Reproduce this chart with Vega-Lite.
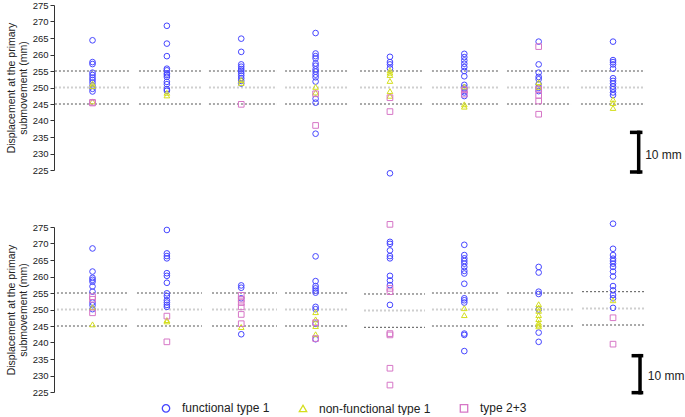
{
  "$schema": "https://vega.github.io/schema/vega-lite/v6.json",
  "padding": {"left": 6, "top": 0, "right": 0, "bottom": 0},
  "bounds": "flush",
  "spacing": 57,
  "config": {
    "view": {"stroke": null},
    "font": "Liberation Sans",
    "axisY": {
      "grid": false,
      "labelFontSize": 9.5,
      "labelColor": "#222",
      "labelPadding": 2,
      "tickSize": 4,
      "tickColor": "#333",
      "domainColor": "#333",
      "titleFontSize": 10.5,
      "titleFontWeight": "normal",
      "titleColor": "#222",
      "titlePadding": 4,
      "titleLineHeight": 12
    },
    "legend": {
      "orient": "none",
      "legendX": 106,
      "legendY": 397,
      "direction": "horizontal",
      "labelFontSize": 12,
      "labelColor": "#222",
      "symbolSize": 55,
      "symbolStrokeWidth": 1.3,
      "columnPadding": 26,
      "labelOffset": 10
    }
  },
  "datasets": {
    "refs": [
      {"p":"A","x":0.495,"x2":1.504,"y":255,"k":"limit"},{"p":"A","x":0.495,"x2":1.504,"y":245,"k":"limit"},{"p":"A","x":0.495,"x2":1.504,"y":250,"k":"target"},
      {"p":"A","x":1.625,"x2":2.486,"y":255,"k":"limit"},{"p":"A","x":1.625,"x2":2.486,"y":245,"k":"limit"},{"p":"A","x":1.625,"x2":2.486,"y":250,"k":"target"},
      {"p":"A","x":2.566,"x2":3.481,"y":255,"k":"limit"},{"p":"A","x":2.566,"x2":3.481,"y":245,"k":"limit"},{"p":"A","x":2.566,"x2":3.481,"y":250,"k":"target"},
      {"p":"A","x":3.589,"x2":4.449,"y":255,"k":"limit"},{"p":"A","x":3.589,"x2":4.449,"y":245,"k":"limit"},{"p":"A","x":3.589,"x2":4.449,"y":250,"k":"target"},
      {"p":"A","x":4.597,"x2":5.458,"y":255,"k":"limit"},{"p":"A","x":4.597,"x2":5.458,"y":245,"k":"limit"},{"p":"A","x":4.597,"x2":5.458,"y":250,"k":"target"},
      {"p":"A","x":5.565,"x2":6.453,"y":255,"k":"limit"},{"p":"A","x":5.565,"x2":6.453,"y":245,"k":"limit"},{"p":"A","x":5.565,"x2":6.453,"y":250,"k":"target"},
      {"p":"A","x":6.574,"x2":7.435,"y":255,"k":"limit"},{"p":"A","x":6.574,"x2":7.435,"y":245,"k":"limit"},{"p":"A","x":6.574,"x2":7.435,"y":250,"k":"target"},
      {"p":"A","x":7.569,"x2":8.430,"y":255,"k":"limit"},{"p":"A","x":7.569,"x2":8.430,"y":245,"k":"limit"},{"p":"A","x":7.569,"x2":8.430,"y":250,"k":"target"},
      {"p":"B","x":0.522,"x2":1.477,"y":255,"k":"limit"},{"p":"B","x":0.522,"x2":1.477,"y":245,"k":"limit"},{"p":"B","x":0.522,"x2":1.477,"y":250,"k":"target"},
      {"p":"B","x":1.598,"x2":2.472,"y":255,"k":"limit"},{"p":"B","x":1.598,"x2":2.472,"y":245,"k":"limit"},{"p":"B","x":1.598,"x2":2.472,"y":250,"k":"target"},
      {"p":"B","x":2.607,"x2":3.481,"y":255,"k":"limit"},{"p":"B","x":2.607,"x2":3.481,"y":245,"k":"limit"},{"p":"B","x":2.607,"x2":3.481,"y":250,"k":"target"},
      {"p":"B","x":3.589,"x2":4.449,"y":255,"k":"limit"},{"p":"B","x":3.589,"x2":4.449,"y":245,"k":"limit"},{"p":"B","x":3.589,"x2":4.449,"y":250,"k":"target"},
      {"p":"B","x":4.651,"x2":5.471,"y":254.7,"k":"limit"},{"p":"B","x":4.651,"x2":5.471,"y":244.6,"k":"limit"},{"p":"B","x":4.651,"x2":5.471,"y":249.7,"k":"target"},
      {"p":"B","x":5.565,"x2":6.453,"y":255,"k":"limit"},{"p":"B","x":5.565,"x2":6.453,"y":245,"k":"limit"},{"p":"B","x":5.565,"x2":6.453,"y":250,"k":"target"},
      {"p":"B","x":6.574,"x2":7.462,"y":255,"k":"limit"},{"p":"B","x":6.574,"x2":7.462,"y":245,"k":"limit"},{"p":"B","x":6.574,"x2":7.462,"y":250,"k":"target"},
      {"p":"B","x":7.583,"x2":8.443,"y":255.4,"k":"limit"},{"p":"B","x":7.583,"x2":8.443,"y":245.3,"k":"limit"},{"p":"B","x":7.583,"x2":8.443,"y":250.3,"k":"target"}
    ],
    "bars": [
      {"p":"A","x":8.345,"y":224.4,"y2":236.4,"x2":8.345},
      {"p":"A","x":8.251,"x2":8.372,"y":236.4,"y2":236.4},
      {"p":"A","x":8.251,"x2":8.372,"y":224.4,"y2":224.4},
      {"p":"B","x":8.363,"y":224.8,"y2":236.0,"x2":8.363},
      {"p":"B","x":8.273,"x2":8.383,"y":236.0,"y2":236.0},
      {"p":"B","x":8.273,"x2":8.383,"y":224.8,"y2":224.8}
    ],
    "labels": [
      {"p":"A","x":8.432,"y":229.5,"label":"10 mm"},
      {"p":"B","x":8.467,"y":229.8,"label":"10 mm"}
    ],
    "pts": [
      {"p":"A","x":1,"t":"functional type 1","y":264.3},{"p":"A","x":1,"t":"functional type 1","y":257.7},{"p":"A","x":1,"t":"functional type 1","y":257.1},{"p":"A","x":1,"t":"functional type 1","y":254.5},{"p":"A","x":1,"t":"functional type 1","y":253.8},{"p":"A","x":1,"t":"functional type 1","y":253.0},{"p":"A","x":1,"t":"functional type 1","y":252.3},{"p":"A","x":1,"t":"functional type 1","y":251.5},{"p":"A","x":1,"t":"functional type 1","y":250.6},{"p":"A","x":1,"t":"functional type 1","y":249.6},{"p":"A","x":1,"t":"functional type 1","y":248.8},
      {"p":"A","x":1,"t":"non-functional type 1","y":251.2},{"p":"A","x":1,"t":"non-functional type 1","y":250.4},{"p":"A","x":1,"t":"non-functional type 1","y":245.8},
      {"p":"A","x":1,"t":"type 2+3","y":245.5},{"p":"A","x":1,"t":"type 2+3","y":245.3},
      {"p":"A","x":2,"t":"functional type 1","y":268.7},{"p":"A","x":2,"t":"functional type 1","y":263.3},{"p":"A","x":2,"t":"functional type 1","y":259.5},{"p":"A","x":2,"t":"functional type 1","y":255.7},{"p":"A","x":2,"t":"functional type 1","y":255.2},{"p":"A","x":2,"t":"functional type 1","y":254.3},{"p":"A","x":2,"t":"functional type 1","y":253.8},{"p":"A","x":2,"t":"functional type 1","y":253.2},{"p":"A","x":2,"t":"functional type 1","y":251.7},{"p":"A","x":2,"t":"functional type 1","y":251.0},{"p":"A","x":2,"t":"functional type 1","y":249.5},{"p":"A","x":2,"t":"functional type 1","y":249.0},
      {"p":"A","x":2,"t":"non-functional type 1","y":248.4},{"p":"A","x":2,"t":"non-functional type 1","y":247.6},
      {"p":"A","x":3,"t":"functional type 1","y":264.8},{"p":"A","x":3,"t":"functional type 1","y":260.8},{"p":"A","x":3,"t":"functional type 1","y":257.0},{"p":"A","x":3,"t":"functional type 1","y":256.3},{"p":"A","x":3,"t":"functional type 1","y":255.6},{"p":"A","x":3,"t":"functional type 1","y":255.0},{"p":"A","x":3,"t":"functional type 1","y":254.3},{"p":"A","x":3,"t":"functional type 1","y":253.6},{"p":"A","x":3,"t":"functional type 1","y":252.8},{"p":"A","x":3,"t":"functional type 1","y":252.0},{"p":"A","x":3,"t":"functional type 1","y":251.2},
      {"p":"A","x":3,"t":"non-functional type 1","y":252.3},{"p":"A","x":3,"t":"non-functional type 1","y":251.4},
      {"p":"A","x":3,"t":"type 2+3","y":244.9},
      {"p":"A","x":4,"t":"functional type 1","y":266.5},{"p":"A","x":4,"t":"functional type 1","y":260.3},{"p":"A","x":4,"t":"functional type 1","y":259.5},{"p":"A","x":4,"t":"functional type 1","y":258.8},{"p":"A","x":4,"t":"functional type 1","y":257.3},{"p":"A","x":4,"t":"functional type 1","y":256.6},{"p":"A","x":4,"t":"functional type 1","y":255.5},{"p":"A","x":4,"t":"functional type 1","y":254.8},{"p":"A","x":4,"t":"functional type 1","y":253.9},{"p":"A","x":4,"t":"functional type 1","y":253.1},{"p":"A","x":4,"t":"functional type 1","y":251.8},{"p":"A","x":4,"t":"functional type 1","y":246.6},{"p":"A","x":4,"t":"functional type 1","y":245.4},{"p":"A","x":4,"t":"functional type 1","y":236.0},
      {"p":"A","x":4,"t":"non-functional type 1","y":250.2},{"p":"A","x":4,"t":"non-functional type 1","y":248.5},
      {"p":"A","x":4,"t":"type 2+3","y":248.1},{"p":"A","x":4,"t":"type 2+3","y":238.5},
      {"p":"A","x":5,"t":"functional type 1","y":259.3},{"p":"A","x":5,"t":"functional type 1","y":257.7},{"p":"A","x":5,"t":"functional type 1","y":257.0},{"p":"A","x":5,"t":"functional type 1","y":255.8},{"p":"A","x":5,"t":"functional type 1","y":224.0},
      {"p":"A","x":5,"t":"non-functional type 1","y":255.2},{"p":"A","x":5,"t":"non-functional type 1","y":254.5},{"p":"A","x":5,"t":"non-functional type 1","y":253.8},{"p":"A","x":5,"t":"non-functional type 1","y":252.0},{"p":"A","x":5,"t":"non-functional type 1","y":248.9},{"p":"A","x":5,"t":"non-functional type 1","y":247.5},
      {"p":"A","x":5,"t":"type 2+3","y":246.9},{"p":"A","x":5,"t":"type 2+3","y":242.7},
      {"p":"A","x":6,"t":"functional type 1","y":260.2},{"p":"A","x":6,"t":"functional type 1","y":259.2},{"p":"A","x":6,"t":"functional type 1","y":258.2},{"p":"A","x":6,"t":"functional type 1","y":257.2},{"p":"A","x":6,"t":"functional type 1","y":256.2},{"p":"A","x":6,"t":"functional type 1","y":255.0},{"p":"A","x":6,"t":"functional type 1","y":253.4},{"p":"A","x":6,"t":"functional type 1","y":250.8},{"p":"A","x":6,"t":"functional type 1","y":250.0},{"p":"A","x":6,"t":"functional type 1","y":249.5},{"p":"A","x":6,"t":"functional type 1","y":248.5},{"p":"A","x":6,"t":"functional type 1","y":247.4},
      {"p":"A","x":6,"t":"non-functional type 1","y":250.3},{"p":"A","x":6,"t":"non-functional type 1","y":244.9},{"p":"A","x":6,"t":"non-functional type 1","y":244.2},
      {"p":"A","x":6,"t":"type 2+3","y":249.3},{"p":"A","x":6,"t":"type 2+3","y":248.0},
      {"p":"A","x":7,"t":"functional type 1","y":263.9},{"p":"A","x":7,"t":"functional type 1","y":257.0},{"p":"A","x":7,"t":"functional type 1","y":254.5},{"p":"A","x":7,"t":"functional type 1","y":253.2},{"p":"A","x":7,"t":"functional type 1","y":252.5},{"p":"A","x":7,"t":"functional type 1","y":251.0},{"p":"A","x":7,"t":"functional type 1","y":249.9},{"p":"A","x":7,"t":"functional type 1","y":248.9},
      {"p":"A","x":7,"t":"non-functional type 1","y":251.6},{"p":"A","x":7,"t":"non-functional type 1","y":250.2},
      {"p":"A","x":7,"t":"type 2+3","y":262.4},{"p":"A","x":7,"t":"type 2+3","y":249.5},{"p":"A","x":7,"t":"type 2+3","y":247.6},{"p":"A","x":7,"t":"type 2+3","y":245.9},{"p":"A","x":7,"t":"type 2+3","y":241.9},
      {"p":"A","x":8,"t":"functional type 1","y":263.9},{"p":"A","x":8,"t":"functional type 1","y":258.3},{"p":"A","x":8,"t":"functional type 1","y":257.7},{"p":"A","x":8,"t":"functional type 1","y":257.0},{"p":"A","x":8,"t":"functional type 1","y":255.7},{"p":"A","x":8,"t":"functional type 1","y":252.8},{"p":"A","x":8,"t":"functional type 1","y":252.0},{"p":"A","x":8,"t":"functional type 1","y":251.2},{"p":"A","x":8,"t":"functional type 1","y":250.3},{"p":"A","x":8,"t":"functional type 1","y":249.5},{"p":"A","x":8,"t":"functional type 1","y":248.5},{"p":"A","x":8,"t":"functional type 1","y":247.7},
      {"p":"A","x":8,"t":"non-functional type 1","y":246.4},{"p":"A","x":8,"t":"non-functional type 1","y":245.3},{"p":"A","x":8,"t":"non-functional type 1","y":243.8},
      {"p":"B","x":1,"t":"functional type 1","y":268.5},{"p":"B","x":1,"t":"functional type 1","y":261.5},{"p":"B","x":1,"t":"functional type 1","y":259.6},{"p":"B","x":1,"t":"functional type 1","y":259.0},{"p":"B","x":1,"t":"functional type 1","y":258.4},{"p":"B","x":1,"t":"functional type 1","y":257.0},{"p":"B","x":1,"t":"functional type 1","y":255.4},{"p":"B","x":1,"t":"functional type 1","y":252.1},{"p":"B","x":1,"t":"functional type 1","y":251.3},{"p":"B","x":1,"t":"functional type 1","y":250.1},
      {"p":"B","x":1,"t":"non-functional type 1","y":250.7},{"p":"B","x":1,"t":"non-functional type 1","y":245.5},
      {"p":"B","x":1,"t":"type 2+3","y":253.9},{"p":"B","x":1,"t":"type 2+3","y":253.1},{"p":"B","x":1,"t":"type 2+3","y":249.0},
      {"p":"B","x":2,"t":"functional type 1","y":274.1},{"p":"B","x":2,"t":"functional type 1","y":267.0},{"p":"B","x":2,"t":"functional type 1","y":266.2},{"p":"B","x":2,"t":"functional type 1","y":265.5},{"p":"B","x":2,"t":"functional type 1","y":261.0},{"p":"B","x":2,"t":"functional type 1","y":260.2},{"p":"B","x":2,"t":"functional type 1","y":258.1},{"p":"B","x":2,"t":"functional type 1","y":254.9},{"p":"B","x":2,"t":"functional type 1","y":254.1},{"p":"B","x":2,"t":"functional type 1","y":252.8},{"p":"B","x":2,"t":"functional type 1","y":252.1},{"p":"B","x":2,"t":"functional type 1","y":251.4},{"p":"B","x":2,"t":"functional type 1","y":250.8},
      {"p":"B","x":2,"t":"non-functional type 1","y":246.8},{"p":"B","x":2,"t":"non-functional type 1","y":246.4},
      {"p":"B","x":2,"t":"type 2+3","y":248.0},{"p":"B","x":2,"t":"type 2+3","y":240.2},
      {"p":"B","x":3,"t":"functional type 1","y":257.3},{"p":"B","x":3,"t":"functional type 1","y":256.6},{"p":"B","x":3,"t":"functional type 1","y":253.4},{"p":"B","x":3,"t":"functional type 1","y":242.5},
      {"p":"B","x":3,"t":"non-functional type 1","y":244.7},
      {"p":"B","x":3,"t":"type 2+3","y":254.3},{"p":"B","x":3,"t":"type 2+3","y":253.1},{"p":"B","x":3,"t":"type 2+3","y":252.1},{"p":"B","x":3,"t":"type 2+3","y":250.8},{"p":"B","x":3,"t":"type 2+3","y":248.5},{"p":"B","x":3,"t":"type 2+3","y":245.7},
      {"p":"B","x":4,"t":"functional type 1","y":266.1},{"p":"B","x":4,"t":"functional type 1","y":258.6},{"p":"B","x":4,"t":"functional type 1","y":257.1},{"p":"B","x":4,"t":"functional type 1","y":256.4},{"p":"B","x":4,"t":"functional type 1","y":255.7},{"p":"B","x":4,"t":"functional type 1","y":255.1},{"p":"B","x":4,"t":"functional type 1","y":250.8},{"p":"B","x":4,"t":"functional type 1","y":250.1},{"p":"B","x":4,"t":"functional type 1","y":245.7},{"p":"B","x":4,"t":"functional type 1","y":241.0},
      {"p":"B","x":4,"t":"non-functional type 1","y":249.2},{"p":"B","x":4,"t":"non-functional type 1","y":247.0},{"p":"B","x":4,"t":"non-functional type 1","y":245.0},{"p":"B","x":4,"t":"non-functional type 1","y":242.5},
      {"p":"B","x":4,"t":"type 2+3","y":246.0},{"p":"B","x":4,"t":"type 2+3","y":241.2},
      {"p":"B","x":5,"t":"functional type 1","y":270.5},{"p":"B","x":5,"t":"functional type 1","y":269.9},{"p":"B","x":5,"t":"functional type 1","y":267.9},{"p":"B","x":5,"t":"functional type 1","y":266.2},{"p":"B","x":5,"t":"functional type 1","y":265.5},{"p":"B","x":5,"t":"functional type 1","y":260.2},{"p":"B","x":5,"t":"functional type 1","y":258.8},{"p":"B","x":5,"t":"functional type 1","y":257.4},{"p":"B","x":5,"t":"functional type 1","y":251.4},
      {"p":"B","x":5,"t":"type 2+3","y":275.8},{"p":"B","x":5,"t":"type 2+3","y":256.4},{"p":"B","x":5,"t":"type 2+3","y":255.4},{"p":"B","x":5,"t":"type 2+3","y":242.7},{"p":"B","x":5,"t":"type 2+3","y":242.3},{"p":"B","x":5,"t":"type 2+3","y":232.2},{"p":"B","x":5,"t":"type 2+3","y":227.1},
      {"p":"B","x":6,"t":"functional type 1","y":269.6},{"p":"B","x":6,"t":"functional type 1","y":266.5},{"p":"B","x":6,"t":"functional type 1","y":265.5},{"p":"B","x":6,"t":"functional type 1","y":264.7},{"p":"B","x":6,"t":"functional type 1","y":263.9},{"p":"B","x":6,"t":"functional type 1","y":262.9},{"p":"B","x":6,"t":"functional type 1","y":261.7},{"p":"B","x":6,"t":"functional type 1","y":260.9},{"p":"B","x":6,"t":"functional type 1","y":257.8},{"p":"B","x":6,"t":"functional type 1","y":253.4},{"p":"B","x":6,"t":"functional type 1","y":252.8},{"p":"B","x":6,"t":"functional type 1","y":252.1},{"p":"B","x":6,"t":"functional type 1","y":242.7},{"p":"B","x":6,"t":"functional type 1","y":242.3},{"p":"B","x":6,"t":"functional type 1","y":237.4},
      {"p":"B","x":6,"t":"non-functional type 1","y":250.4},{"p":"B","x":6,"t":"non-functional type 1","y":248.3},
      {"p":"B","x":7,"t":"functional type 1","y":262.9},{"p":"B","x":7,"t":"functional type 1","y":261.2},{"p":"B","x":7,"t":"functional type 1","y":255.4},{"p":"B","x":7,"t":"functional type 1","y":254.7},{"p":"B","x":7,"t":"functional type 1","y":250.0},{"p":"B","x":7,"t":"functional type 1","y":243.0},{"p":"B","x":7,"t":"functional type 1","y":240.2},
      {"p":"B","x":7,"t":"non-functional type 1","y":251.6},{"p":"B","x":7,"t":"non-functional type 1","y":250.6},{"p":"B","x":7,"t":"non-functional type 1","y":249.6},{"p":"B","x":7,"t":"non-functional type 1","y":248.3},{"p":"B","x":7,"t":"non-functional type 1","y":247.1},{"p":"B","x":7,"t":"non-functional type 1","y":246.0},{"p":"B","x":7,"t":"non-functional type 1","y":245.4},{"p":"B","x":7,"t":"non-functional type 1","y":244.9},
      {"p":"B","x":8,"t":"functional type 1","y":276.0},{"p":"B","x":8,"t":"functional type 1","y":268.4},{"p":"B","x":8,"t":"functional type 1","y":266.5},{"p":"B","x":8,"t":"functional type 1","y":265.4},{"p":"B","x":8,"t":"functional type 1","y":264.7},{"p":"B","x":8,"t":"functional type 1","y":263.9},{"p":"B","x":8,"t":"functional type 1","y":262.9},{"p":"B","x":8,"t":"functional type 1","y":261.5},{"p":"B","x":8,"t":"functional type 1","y":260.0},{"p":"B","x":8,"t":"functional type 1","y":257.1},{"p":"B","x":8,"t":"functional type 1","y":255.8},{"p":"B","x":8,"t":"functional type 1","y":254.4},{"p":"B","x":8,"t":"functional type 1","y":253.4},{"p":"B","x":8,"t":"functional type 1","y":250.5},
      {"p":"B","x":8,"t":"non-functional type 1","y":252.8},
      {"p":"B","x":8,"t":"type 2+3","y":247.5},{"p":"B","x":8,"t":"type 2+3","y":239.5}
    ]
  },
  "vconcat": [
    {
      "width": 600,
      "height": 165,
      "encoding": {
        "x": {"field": "x", "type": "quantitative", "scale": {"domain": [0.482, 8.551], "nice": false, "zero": false}, "axis": null},
        "y": {"field": "y", "type": "quantitative", "scale": {"domain": [225, 275], "nice": false, "zero": false}, "axis": {"title": ["Displacement at the primary", "submovement (mm)"], "values": [225, 230, 235, 240, 245, 250, 255, 260, 265, 270, 275]}}
      },
      "layer": [
        {"data": {"name": "refs"}, "transform": [{"filter": "datum.p == 'A' && datum.k == 'target'"}], "mark": {"type": "rule", "color": "#cfcfcf", "strokeWidth": 2, "strokeDash": [2, 2]}, "encoding": {"x2": {"field": "x2"}}},
        {"data": {"name": "refs"}, "transform": [{"filter": "datum.p == 'A' && datum.k == 'limit'"}], "mark": {"type": "rule", "color": "#555", "strokeWidth": 1, "strokeDash": [2, 2]}, "encoding": {"x2": {"field": "x2"}}},
        {"data": {"name": "pts"}, "transform": [{"filter": "datum.p == 'A'"}], "mark": {"type": "point", "filled": false, "strokeWidth": 1, "size": 32, "opacity": 1},
          "encoding": {
            "color": {"field": "t", "type": "nominal", "title": null, "scale": {"domain": ["functional type 1", "non-functional type 1", "type 2+3"], "range": ["#4646ff", "#d4de1c", "#d676c6"]}},
            "shape": {"field": "t", "type": "nominal", "title": null, "scale": {"domain": ["functional type 1", "non-functional type 1", "type 2+3"], "range": ["circle", "triangle-up", "square"]}}
          }},
        {"data": {"name": "bars"}, "transform": [{"filter": "datum.p == 'A'"}], "mark": {"type": "rule", "color": "#000", "strokeWidth": 3.5, "strokeCap": "square"}, "encoding": {"x2": {"field": "x2"}, "y2": {"field": "y2"}}},
        {"data": {"name": "labels"}, "transform": [{"filter": "datum.p == 'A'"}], "mark": {"type": "text", "align": "left", "baseline": "middle", "fontSize": 12, "color": "#222"}, "encoding": {"text": {"field": "label"}}}
      ]
    },
    {
      "width": 600,
      "height": 165,
      "encoding": {
        "x": {"field": "x", "type": "quantitative", "scale": {"domain": [0.482, 8.551], "nice": false, "zero": false}, "axis": null},
        "y": {"field": "y", "type": "quantitative", "scale": {"domain": [225, 275], "nice": false, "zero": false}, "axis": {"title": ["Displacement at the primary", "submovement (mm)"], "values": [225, 230, 235, 240, 245, 250, 255, 260, 265, 270, 275]}}
      },
      "layer": [
        {"data": {"name": "refs"}, "transform": [{"filter": "datum.p == 'B' && datum.k == 'target'"}], "mark": {"type": "rule", "color": "#cfcfcf", "strokeWidth": 2, "strokeDash": [2, 2]}, "encoding": {"x2": {"field": "x2"}}},
        {"data": {"name": "refs"}, "transform": [{"filter": "datum.p == 'B' && datum.k == 'limit'"}], "mark": {"type": "rule", "color": "#555", "strokeWidth": 1, "strokeDash": [2, 2]}, "encoding": {"x2": {"field": "x2"}}},
        {"data": {"name": "pts"}, "transform": [{"filter": "datum.p == 'B'"}], "mark": {"type": "point", "filled": false, "strokeWidth": 1, "size": 32, "opacity": 1},
          "encoding": {
            "color": {"field": "t", "type": "nominal", "title": null, "scale": {"domain": ["functional type 1", "non-functional type 1", "type 2+3"], "range": ["#4646ff", "#d4de1c", "#d676c6"]}},
            "shape": {"field": "t", "type": "nominal", "title": null, "scale": {"domain": ["functional type 1", "non-functional type 1", "type 2+3"], "range": ["circle", "triangle-up", "square"]}}
          }},
        {"data": {"name": "bars"}, "transform": [{"filter": "datum.p == 'B'"}], "mark": {"type": "rule", "color": "#000", "strokeWidth": 3.5, "strokeCap": "square"}, "encoding": {"x2": {"field": "x2"}, "y2": {"field": "y2"}}},
        {"data": {"name": "labels"}, "transform": [{"filter": "datum.p == 'B'"}], "mark": {"type": "text", "align": "left", "baseline": "middle", "fontSize": 12, "color": "#222"}, "encoding": {"text": {"field": "label"}}}
      ]
    }
  ]
}
